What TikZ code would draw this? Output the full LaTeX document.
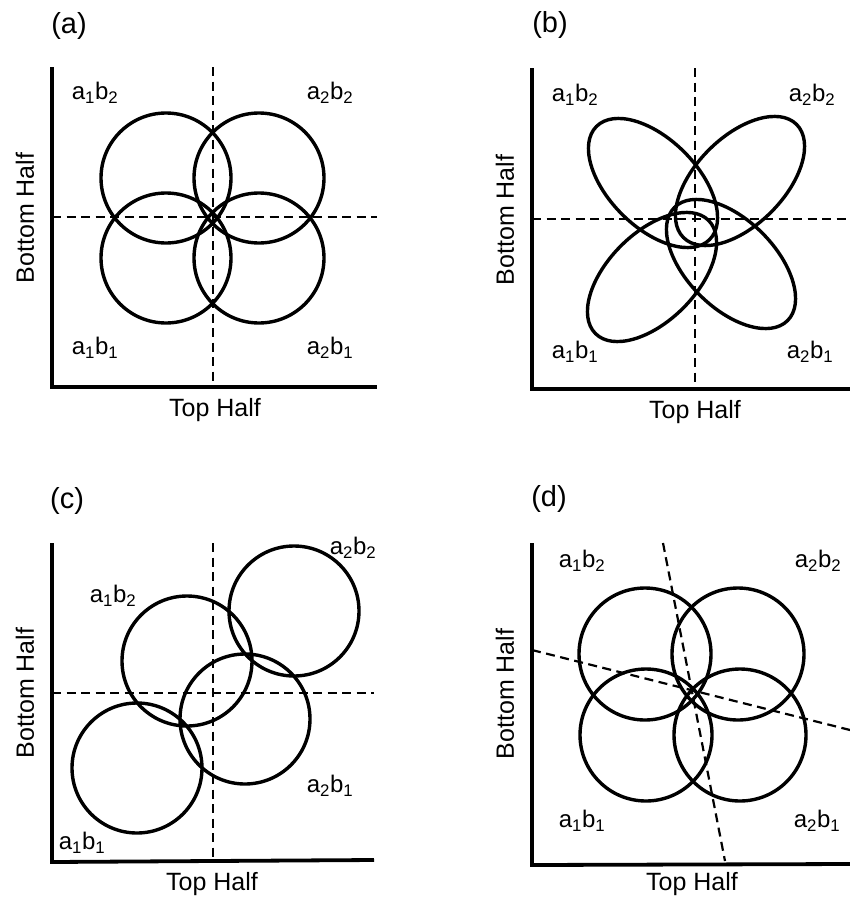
\documentclass[tikz,border=0pt]{standalone}
\usepackage{fontspec}
\setmainfont{Liberation Sans}
\usepackage{xcolor}
\usepackage{tikz}
\usetikzlibrary{positioning,calc}
\definecolor{ink}{HTML}{000000}
\newcommand{\geno}[2]{a\textsubscript{#1}b\textsubscript{#2}}

\begin{document}
\begin{tikzpicture}[
  x=1pt, y=-1pt,
  axis/.style={draw=ink, line width=3.8pt},
  divider/.style={draw=ink, line width=2.2pt, dash pattern=on 9pt off 5.5pt},
  blob/.style={draw=ink, line width=3.4pt},
  panel/.style={font=\fontsize{29}{32}\selectfont, inner sep=0pt},
  lbl/.style={font=\fontsize{24}{28}\selectfont, inner sep=0pt},
  axtitle/.style={font=\fontsize{25}{28}\selectfont, inner sep=0pt},
]
\useasboundingbox (0,0) rectangle (850,902);

% (a)
\node[panel] (pa) at (69,26) {(a)};
\coordinate (a-top) at (52,67);
\coordinate (a-o) at (52,387);
\coordinate (a-right) at (377,387);
\draw[axis] (a-top) -- (a-o) -- (a-right);
\draw[divider] (213,67) -- (213,387);
\draw[divider] (52,217) -- (377,217);
\draw[blob] (166,178) circle[radius=65pt];
\draw[blob] (259,178) circle[radius=65pt];
\draw[blob] (166,258) circle[radius=65pt];
\draw[blob] (259,258) circle[radius=65pt];
\node[lbl] (a-12) at (95,93) {\geno12};
\node[lbl] (a-22) at (330,93) {\geno22};
\node[lbl] (a-11) at (95,348) {\geno11};
\node[lbl] (a-21) at (330,348) {\geno21};
\node[axtitle] (a-xt) at (215,410) {Top Half};
\node[axtitle, rotate=90] (a-yt) at (25,218) {Bottom Half};

% (b)
\node[panel] (pb) at (550,25) {(b)};
\coordinate (b-top) at (532,68);
\coordinate (b-o) at (532,389);
\coordinate (b-right) at (850,389);
\draw[axis] (b-top) -- (b-o) -- (b-right);
\draw[divider] (695,68) -- (695,389);
\draw[divider] (532,219) -- (850,219);
\coordinate (b-ul) at (653,183);
\coordinate (b-ur) at (740,181);
\coordinate (b-ll) at (652,277);
\coordinate (b-lr) at (731,264);
\draw[blob, rotate around={-45:(b-ul)}] (b-ul) ellipse[x radius=80pt, y radius=44pt];
\draw[blob, rotate around={45:(b-ur)}] (b-ur) ellipse[x radius=80pt, y radius=44pt];
\draw[blob, rotate around={45:(b-ll)}] (b-ll) ellipse[x radius=80pt, y radius=44pt];
\draw[blob, rotate around={-45:(b-lr)}] (b-lr) ellipse[x radius=80pt, y radius=44pt];
\node[lbl] (b-12) at (575,95) {\geno12};
\node[lbl] (b-22) at (812,95) {\geno22};
\node[lbl] (b-11) at (575,352) {\geno11};
\node[lbl] (b-21) at (810,352) {\geno21};
\node[axtitle] (b-xt) at (695,412) {Top Half};
\node[axtitle, rotate=90] (b-yt) at (505,220) {Bottom Half};

% (c)
\node[panel] (pc) at (67,501) {(c)};
\coordinate (c-top) at (52,543);
\coordinate (c-o) at (52,862);
\coordinate (c-right) at (374,860);
\draw[axis] (c-top) -- (c-o) -- (c-right);
\draw[divider] (213,543) -- (213,861);
\draw[divider] (52,693) -- (374,693);
\draw[blob] (137,768) circle[radius=65pt];
\draw[blob] (187,661) circle[radius=65pt];
\draw[blob] (245,719) circle[radius=65pt];
\draw[blob] (294,611) circle[radius=65pt];
\node[lbl] (c-22) at (353,548) {\geno22};
\node[lbl] (c-12) at (113,596) {\geno12};
\node[lbl] (c-21) at (330,786) {\geno21};
\node[lbl] (c-11) at (82,843) {\geno11};
\node[axtitle] (c-xt) at (212,884) {Top Half};
\node[axtitle, rotate=90] (c-yt) at (25,693) {Bottom Half};

% (d)
\node[panel] (pd) at (549,499) {(d)};
\coordinate (d-top) at (532,543);
\coordinate (d-o) at (532,865);
\coordinate (d-right) at (850,864);
\draw[axis] (d-top) -- (d-o) -- (d-right);
\draw[divider] (663,543) -- (725,861);
\draw[divider] (532,650) -- (850,730);
\draw[blob] (645,654) circle[radius=66pt];
\draw[blob] (738,654) circle[radius=66pt];
\draw[blob] (646,735) circle[radius=66pt];
\draw[blob] (740,735) circle[radius=66pt];
\node[lbl] (d-12) at (582,561) {\geno12};
\node[lbl] (d-22) at (818,561) {\geno22};
\node[lbl] (d-11) at (582,821) {\geno11};
\node[lbl] (d-21) at (817,821) {\geno21};
\node[axtitle] (d-xt) at (692,884) {Top Half};
\node[axtitle, rotate=90] (d-yt) at (505,694) {Bottom Half};
\end{tikzpicture}
\end{document}
